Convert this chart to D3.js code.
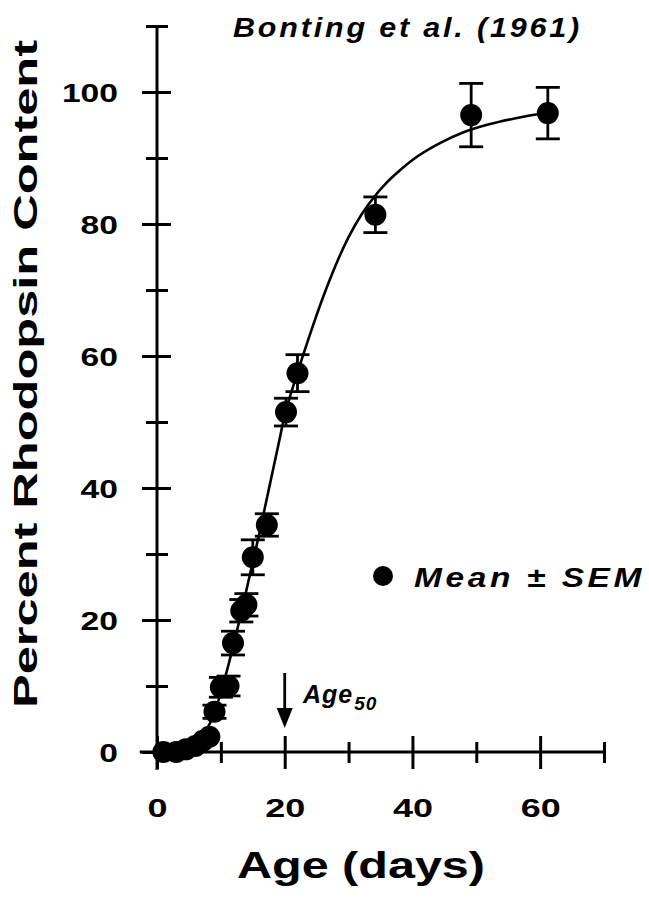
<!DOCTYPE html>
<html>
<head>
<meta charset="utf-8">
<script src="https://cdn.jsdelivr.net/npm/d3@7"></script>
<style>
  html, body { margin: 0; padding: 0; background: #fff; }
  svg { display: block; }
  text { font-family: "Liberation Sans", Arial, Helvetica, sans-serif; font-weight: bold; fill: #000; }
</style>
</head>
<body>
<svg id="chart" width="649" height="905"></svg>
<script>
// Rhodopsin content vs. age (Bonting et al., 1961)
const ages  = [1, 3, 4.5, 6, 7.2, 8.2, 9, 10, 11.2, 11.9, 13.2, 14, 15, 17.2, 20.2, 22, 34.2, 49.2, 61.2];
const means = [0, 0, 0.4, 0.9, 1.7, 2.3, 6.1, 9.8, 10, 16.5, 21.4, 22.3, 29.5, 34.4, 51.5, 57.4, 81.4, 96.5, 96.8];
const sems  = [0, 0, 0, 0, 0, 0, 1.0, 1.5, 1.5, 1.8, 1.7, 1.7, 2.65, 1.7, 2.1, 2.8, 2.7, 4.8, 3.9];

// fitted growth curve (age, percent)
const curveAges = [1, 3, 5, 7, 8, 9, 10, 11, 12, 13, 14, 15, 16, 17, 18, 19, 20, 21, 22, 24, 26, 28, 30, 32, 34, 36, 38, 40, 44, 48, 52, 56, 61.2];
const curveVals = [0, 0.2, 0.8, 2.5, 3.8, 6, 9, 12.5, 16.3, 20.3, 24.5, 28.8, 33, 37.5, 42, 46.5, 51, 54.4, 57.5, 63.4, 68.9, 73.8, 78, 81.4, 84.1, 86.3, 88.1, 89.7, 92.1, 93.9, 95.1, 96, 96.9];

const xTicks = [0, 10, 20, 30, 40, 50, 60, 70];
const xTickLabels = [0, 20, 40, 60];
const yTicks = [0, 10, 20, 30, 40, 50, 60, 70, 80, 90, 100, 110];
const yTickLabels = [0, 20, 40, 60, 80, 100];

const svg = d3.select("#chart");
const x = d3.scaleLinear().domain([0, 70]).range([157, 604]);
const y = d3.scaleLinear().domain([0, 100]).range([752, 92]);

const AXIS_W = 3;

// x axis
const gx = svg.append("g").attr("transform", `translate(0,${y(0)})`)
  .call(d3.axisBottom(x).tickValues(xTicks).tickSize(0)
    .tickFormat(d => xTickLabels.includes(d) ? d : ""));
gx.select(".domain").remove();
gx.selectAll(".tick line")
  .attr("stroke", "#000").attr("stroke-width", AXIS_W)
  .attr("y1", d => xTickLabels.includes(d) ? -16 : -10)
  .attr("y2", d => xTickLabels.includes(d) ? 17 : 11);
gx.selectAll(".tick text")
  .attr("y", 65).attr("dy", 0)
  .attr("font-size", 26).attr("font-family", null)
  .attr("textLength", d => String(d).length * 20)
  .attr("lengthAdjust", "spacingAndGlyphs");
svg.append("line")
  .attr("x1", x(-2.7)).attr("x2", x(70))
  .attr("y1", y(0)).attr("y2", y(0))
  .attr("stroke", "#000").attr("stroke-width", AXIS_W);

// y axis
const gy = svg.append("g").attr("transform", `translate(${x(0)},0)`)
  .call(d3.axisLeft(y).tickValues(yTicks).tickSize(0)
    .tickFormat(d => yTickLabels.includes(d) ? d : ""));
gy.select(".domain").remove();
gy.selectAll(".tick line")
  .attr("stroke", "#000").attr("stroke-width", AXIS_W)
  .attr("x1", d => yTickLabels.includes(d) ? -15 : -11)
  .attr("x2", d => yTickLabels.includes(d) ? 14 : 11);
gy.selectAll(".tick text")
  .attr("x", -39).attr("dy", "0.36em")
  .attr("font-size", 26).attr("font-family", null)
  .attr("textLength", d => String(d).length * 18.7)
  .attr("lengthAdjust", "spacingAndGlyphs");
svg.append("line")
  .attr("x1", x(0)).attr("x2", x(0))
  .attr("y1", y(110)).attr("y2", y(-2.7))
  .attr("stroke", "#000").attr("stroke-width", AXIS_W);

// fitted curve
const curveData = curveAges.map((a, i) => [a, curveVals[i]]);
svg.append("path")
  .datum(curveData)
  .attr("fill", "none").attr("stroke", "#000").attr("stroke-width", 2.6)
  .attr("d", d3.line().x(d => x(d[0])).y(d => y(d[1])).curve(d3.curveMonotoneX));

// error bars and means
const pts = ages.map((a, i) => ({ a, m: means[i], s: sems[i] }));
const eb = svg.append("g").attr("stroke", "#000").attr("stroke-width", 2.8);
pts.filter(p => p.s > 0).forEach(p => {
  eb.append("line").attr("x1", x(p.a)).attr("x2", x(p.a))
    .attr("y1", y(p.m - p.s)).attr("y2", y(p.m + p.s));
  [p.m - p.s, p.m + p.s].forEach(v => {
    eb.append("line").attr("x1", x(p.a) - 12).attr("x2", x(p.a) + 12)
      .attr("y1", y(v)).attr("y2", y(v));
  });
});
svg.append("g").selectAll("circle").data(pts).join("circle")
  .attr("cx", d => x(d.a)).attr("cy", d => y(d.m)).attr("r", 11)
  .attr("fill", "#000");

// axis titles
svg.append("text")
  .attr("transform", `translate(37,${(708 + 40) / 2}) rotate(-90)`)
  .attr("text-anchor", "middle").attr("font-size", 34)
  .attr("textLength", 668).attr("lengthAdjust", "spacingAndGlyphs")
  .text("Percent Rhodopsin Content");
svg.append("text")
  .attr("x", 361).attr("y", 878)
  .attr("text-anchor", "middle").attr("font-size", 36)
  .attr("textLength", 248).attr("lengthAdjust", "spacingAndGlyphs")
  .text("Age (days)");

// source title
svg.append("text")
  .attr("x", 233).attr("y", 37)
  .attr("font-size", 27).attr("font-style", "italic").attr("letter-spacing", 2.5)
  .attr("textLength", 349).attr("lengthAdjust", "spacingAndGlyphs")
  .text("Bonting et al. (1961)");

// legend
svg.append("circle").attr("cx", 383).attr("cy", 576).attr("r", 10).attr("fill", "#000");
svg.append("text")
  .attr("x", 414).attr("y", 587)
  .attr("font-size", 28).attr("font-style", "italic").attr("letter-spacing", 3)
  .attr("textLength", 231).attr("lengthAdjust", "spacingAndGlyphs")
  .text("Mean ± SEM");

// Age50 marker
const ax = x(20);
svg.append("line").attr("x1", ax).attr("x2", ax).attr("y1", 673).attr("y2", 712)
  .attr("stroke", "#000").attr("stroke-width", 2.8);
svg.append("path")
  .attr("d", `M${ax - 8},708 L${ax + 8},708 L${ax},728 Z`)
  .attr("fill", "#000");
const age50 = svg.append("text")
  .attr("x", 303).attr("y", 703)
  .attr("font-style", "italic").attr("font-size", 25).attr("letter-spacing", 1);
age50.append("tspan").text("Age");
age50.append("tspan").attr("font-size", 19).attr("dy", 7).attr("dx", 1).text("50");
</script>
</body>
</html>
